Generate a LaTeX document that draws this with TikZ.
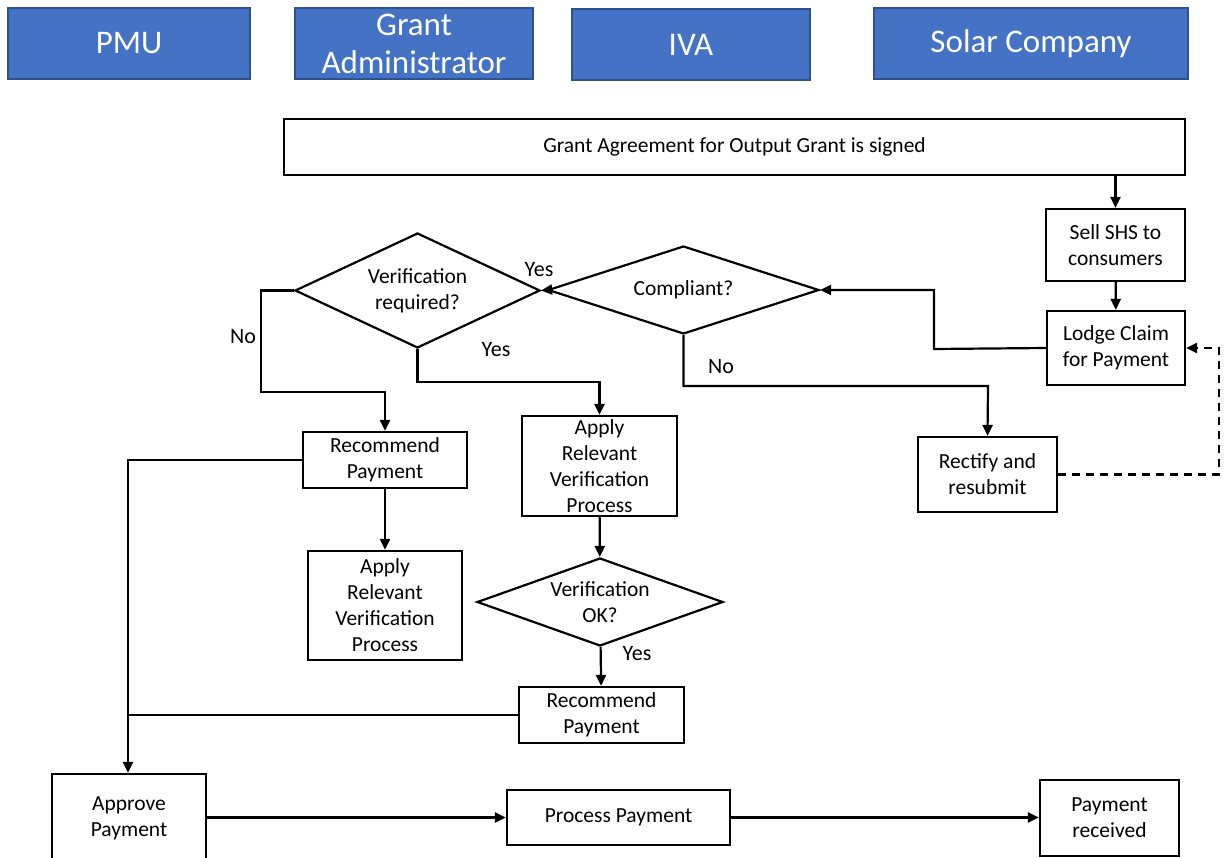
\documentclass[tikz,border=0pt]{standalone}
\usepackage{fontspec}
\setmainfont{Carlito}
\usetikzlibrary{shapes.geometric,arrows.meta}
\definecolor{hdrfill}{HTML}{4472C4}
\definecolor{hdrline}{HTML}{2F528F}
\tikzset{
  hdr/.style={draw=hdrline, line width=1.5pt, fill=hdrfill, text=white, align=center,
    font=\fontsize{33}{38}\selectfont, inner sep=0pt},
  box/.style={draw=black, line width=2.2pt, align=center, inner sep=0pt,
    font=\fontsize{21.5}{26}\selectfont},
  dia/.style={draw=black, line width=2.2pt, diamond, align=center, inner sep=0pt,
    font=\fontsize{21.5}{26}\selectfont},
  conn/.style={line width=2.2pt, -{Triangle[length=11pt,width=10pt]}},
  plain/.style={line width=2.2pt},
  dashline/.style={dash pattern=on 8pt off 6pt},
  lbl/.style={font=\fontsize{22}{24}\selectfont, inner sep=0pt},
}
\begin{document}
\begin{tikzpicture}[x=1pt,y=-1pt]
\useasboundingbox (0,0) rectangle (1225,858);
\clip (0,0) rectangle (1225,858);
% headers
\node[hdr, minimum width=242, minimum height=71] (pmu) at (129,43.5) {PMU};
\node[hdr, minimum width=238, minimum height=71] (ga) at (414,43.5) {Grant\\Administrator};
\node[hdr, minimum width=238, minimum height=71] (iva) at (691,44.5) {IVA};
\node[hdr, minimum width=314, minimum height=71] (sc) at (1031,43.5) {Solar Company};
% boxes
\node[box, minimum width=901, minimum height=56] (gaa) at (734.5,147) {Grant Agreement for Output Grant is signed};
\node[box, minimum width=139, minimum height=72] (sell) at (1115.5,245) {Sell SHS to\\consumers};
\node[box, minimum width=138, minimum height=74] (lodge) at (1116,348) {Lodge Claim\\for Payment};
\node[box, minimum width=139, minimum height=75] (rect) at (987.5,474.5) {Rectify and\\resubmit};
\node[dia, aspect=3, minimum width=271, minimum height=88] (comp) at (683.5,290) {Compliant?};
\node[dia, aspect=2.1, minimum width=245, minimum height=115] (vreq) at (417.5,290.5) {Verification\\required?};
\node[box, minimum width=164, minimum height=56] (rp1) at (385,460) {Recommend\\Payment};
\node[box, minimum width=154, minimum height=109] (ap1) at (385,605.5) {Apply\\Relevant\\Verification\\Process};
\node[box, minimum width=155, minimum height=100] (ap2) at (599.5,466) {Apply\\Relevant\\Verification\\Process};
\node[dia, aspect=2.75, minimum width=246, minimum height=88] (vok) at (600,602) {Verification\\OK?};
\node[box, minimum width=165, minimum height=56] (rp2) at (601.5,715) {Recommend\\Payment};
\node[box, minimum width=154, minimum height=88] (appr) at (129,818) {Approve\\Payment};
\node[box, minimum width=223, minimum height=55] (proc) at (618.5,817.5) {Process Payment};
\node[box, minimum width=139, minimum height=76] (recv) at (1109.5,818) {Payment\\received};
% coordinates
\coordinate (j1) at (934,349);
\coordinate (j2) at (934,290);
\coordinate (c1) at (683.5,386);
\coordinate (c2) at (988,386);
\coordinate (v1) at (261,290.5);
\coordinate (v2) at (261,392);
\coordinate (v3) at (385,392);
\coordinate (y1) at (417.5,382);
\coordinate (y2) at (599.5,382);
\coordinate (m1) at (128,460);
\coordinate (m2) at (128,715);
\coordinate (d1) at (1219,474.5);
\coordinate (d2) at (1219,348);
% connectors
\draw[conn] (gaa.south -| sell.north) -- (sell.north);
\draw[conn] (sell) -- (lodge);
\draw[conn] (lodge.west) -- (j1) -- (j2) -- (comp.east);
\draw[conn] (comp.west) -- (vreq.east);
\draw[conn] (comp.south) -- (c1) -- (c2) -- (rect.north);
\draw[conn, dashline] (rect.east) -- (d1) -- (d2) -- (lodge.east);
\draw[conn] (vreq.west) -- (v1) -- (v2) -- (v3) -- (rp1.north);
\draw[conn] (vreq.south) -- (y1) -- (y2) -- (ap2.north);
\draw[conn] (rp1) -- (ap1);
\draw[conn] (ap2) -- (vok);
\draw[conn] (vok) -- (rp2);
\draw[conn] (rp1.west) -- (m1) -- (appr.north -| m1);
\draw[plain] (rp2.west) -- (m2);
\draw[conn] (appr.east |- proc.west) -- (proc.west);
\draw[conn] (proc.east) -- (proc.east -| recv.west);
% labels
\node[lbl] (lyes1) at (539,270) {Yes};
\node[lbl] (lno1) at (721,367) {No};
\node[lbl] (lno2) at (243,337) {No};
\node[lbl] (lyes2) at (496,350) {Yes};
\node[lbl] (lyes3) at (637,654) {Yes};
\end{tikzpicture}
\end{document}
